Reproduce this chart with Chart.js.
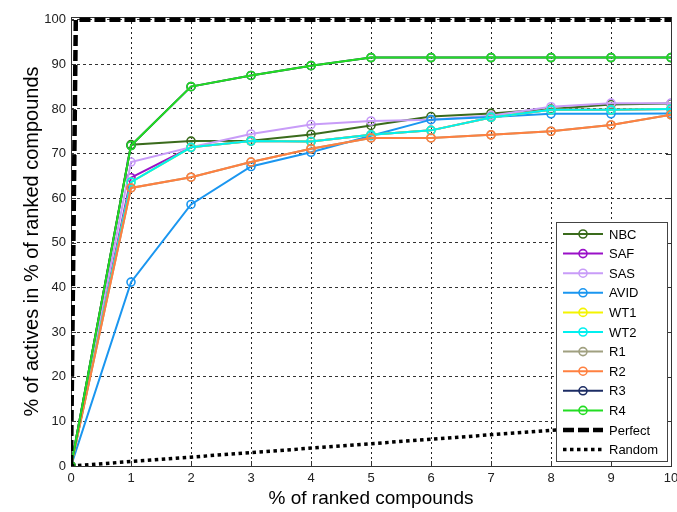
<!DOCTYPE html>
<html>
<head>
<meta charset="utf-8">
<script src="https://cdn.jsdelivr.net/npm/chart.js@4.4.1/dist/chart.umd.min.js"></script>
<style>
    html, body { margin: 0; padding: 0; background: #fff; }
    #wrap { width: 677px; height: 512px; position: relative; }
</style>
</head>
<body>
<div id="wrap"><canvas id="enrich"></canvas></div>
<script>
// x = % of ranked compounds
const xVals = [0, 1, 2, 3, 4, 5, 6, 7, 8, 9, 10];

const seriesNames = ['NBC', 'SAF', 'SAS', 'AVID', 'WT1', 'WT2', 'R1', 'R2', 'R3', 'R4'];
const nbc  = [0, 72, 72.8, 72.9, 74.3, 76.3, 78.3, 79, 80, 81, 81.2];
const saf  = [0, 64.6, 71.4, 72.8, 72.7, 74.2, 75.2, 78.1, 79.8, 79.8, 80];
const sas  = [0, 68.1, 71.4, 74.4, 76.5, 77.3, 77.6, 78.5, 80.5, 81.3, 81.3];
const avid = [0, 41.2, 58.6, 67.1, 70.3, 74, 77.6, 78.2, 78.9, 78.9, 79];
const wt1  = [0, 63.6, 71.4, 72.8, 72.7, 74.2, 75.2, 78.1, 79.8, 79.8, 80];
const wt2  = [0, 63.6, 71.4, 72.8, 72.7, 74.2, 75.2, 78.1, 79.8, 79.8, 80];
const r1   = [0, 62.3, 64.7, 68.1, 71.1, 73.5, 73.5, 74.2, 75, 76.4, 78.7];
const r2   = [0, 62.3, 64.7, 68.1, 71.1, 73.5, 73.5, 74.2, 75, 76.4, 78.7];
const r3   = [0, 71.8, 85, 87.5, 89.7, 91.5, 91.5, 91.5, 91.5, 91.5, 91.5];
const r4   = [0, 71.8, 85, 87.5, 89.7, 91.5, 91.5, 91.5, 91.5, 91.5, 91.5];
const seriesValues = [nbc, saf, sas, avid, wt1, wt2, r1, r2, r3, r4];
const seriesColors = ['#3a6b1c', '#9a10c8', '#c89cf8', '#1a96f0', '#f4f400', '#00f0f0', '#a0a080', '#ff8040', '#1c2c64', '#22dd22'];

// reference curves
const perfectX = [0, 0.08, 10];
const perfectY = [0, 100, 100];
const randomX = [0, 10];
const randomY = [0, 10];

const xTicks = [0, 1, 2, 3, 4, 5, 6, 7, 8, 9, 10];
const yTicks = [0, 10, 20, 30, 40, 50, 60, 70, 80, 90, 100];

const FONT = "'Liberation Sans', Arial, sans-serif";

function pts(xs, ys) {
    return xs.map((x, i) => ({ x: x, y: ys[i] }));
}

const datasets = seriesNames.map((name, i) => ({
    label: name,
    data: pts(xVals, seriesValues[i]),
    borderColor: seriesColors[i],
    backgroundColor: 'rgba(0,0,0,0)',
    borderWidth: 2,
    pointRadius: 4,
    pointBorderWidth: 1.6,
    pointBorderColor: seriesColors[i],
    pointBackgroundColor: 'rgba(0,0,0,0)',
    tension: 0,
    order: 20 - i
}));

datasets.push({
    label: 'Perfect',
    data: pts(perfectX, perfectY),
    borderColor: '#000',
    borderWidth: 4.5,
    borderDash: [11, 4],
    pointRadius: 0,
    order: 2
});
datasets.push({
    label: 'Random',
    data: pts(randomX, randomY),
    borderColor: '#000',
    borderWidth: 3.5,
    borderDash: [3.5, 3.5],
    pointRadius: 0,
    order: 1
});

// axes box with inward tick marks
const framePlugin = {
    id: 'frame',
    beforeDatasetsDraw(chart) {
        const { ctx, chartArea: a, scales } = chart;
        ctx.save();
        ctx.strokeStyle = '#333';
        ctx.lineWidth = 1;
        ctx.strokeRect(a.left + 0.5, a.top + 0.5, a.right - a.left, a.bottom - a.top);
        ctx.beginPath();
        xTicks.forEach(t => {
            const px = Math.round(scales.x.getPixelForValue(t)) + 0.5;
            ctx.moveTo(px, a.bottom); ctx.lineTo(px, a.bottom - 5);
            ctx.moveTo(px, a.top); ctx.lineTo(px, a.top + 5);
        });
        yTicks.forEach(t => {
            const py = Math.round(scales.y.getPixelForValue(t)) + 0.5;
            ctx.moveTo(a.left, py); ctx.lineTo(a.left + 5, py);
            ctx.moveTo(a.right, py); ctx.lineTo(a.right - 5, py);
        });
        ctx.stroke();
        ctx.restore();
    }
};

// legend box inside the plot, lower right
const boxLegend = {
    id: 'boxLegend',
    afterDraw(chart) {
        const { ctx } = chart;
        const ds = chart.data.datasets;
        const left = 556, top = 222, w = 111, h = 239, step = 19.6;
        ctx.save();
        ctx.fillStyle = '#fff';
        ctx.fillRect(left, top, w, h);
        ctx.strokeStyle = '#444';
        ctx.lineWidth = 1;
        ctx.strokeRect(left + 0.5, top + 0.5, w, h);
        ctx.font = '13px ' + FONT;
        ctx.textBaseline = 'middle';
        ds.forEach((d, i) => {
            const y = top + 12 + i * step;
            ctx.strokeStyle = d.borderColor;
            ctx.lineWidth = d.label === 'Perfect' ? 4.5 : (d.label === 'Random' ? 3.5 : 2);
            ctx.setLineDash(d.borderDash || []);
            ctx.beginPath();
            ctx.moveTo(563, y);
            ctx.lineTo(603, y);
            ctx.stroke();
            ctx.setLineDash([]);
            if (d.pointRadius) {
                ctx.lineWidth = 1.6;
                ctx.beginPath();
                ctx.arc(583, y, 4, 0, Math.PI * 2);
                ctx.stroke();
            }
            ctx.fillStyle = '#000';
            ctx.fillText(d.label, 609, y + 1);
        });
        ctx.restore();
    }
};

new Chart(document.getElementById('enrich'), {
    type: 'line',
    data: { datasets: datasets },
    options: {
        responsive: true,
        maintainAspectRatio: false,
        animation: false,
        layout: { padding: { top: 17, right: 6, left: 0, bottom: 0 } },
        plugins: {
            legend: { display: false },
            tooltip: { enabled: false }
        },
        scales: {
            x: {
                type: 'linear',
                min: 0,
                max: 10,
                afterFit: s => { s.height = 46; s.paddingLeft = 0; s.paddingRight = 0; },
                afterBuildTicks: s => { s.ticks = xTicks.map(v => ({ value: v })); },
                border: { display: false, dash: [2, 3] },
                grid: { color: '#222', drawTicks: false, lineWidth: 1 },
                ticks: { padding: 5, color: '#222', font: { family: FONT, size: 13 } },
                title: {
                    display: true,
                    text: '% of ranked compounds',
                    color: '#000',
                    font: { family: FONT, size: 19 },
                    padding: { top: 2, bottom: 2 }
                }
            },
            y: {
                min: 0,
                max: 100.6,
                afterFit: s => { s.width = 71; s.paddingTop = 0; s.paddingBottom = 0; },
                afterBuildTicks: s => { s.ticks = yTicks.map(v => ({ value: v })); },
                border: { display: false, dash: [3, 3] },
                grid: { color: '#333', drawTicks: false, lineWidth: 1 },
                ticks: { padding: 5, color: '#222', font: { family: FONT, size: 13 } },
                title: {
                    display: true,
                    text: '% of actives in % of ranked compounds',
                    color: '#000',
                    font: { family: FONT, size: 20 },
                    padding: { top: 20, bottom: 4 }
                }
            }
        }
    },
    plugins: [framePlugin, boxLegend]
});
</script>
</body>
</html>
